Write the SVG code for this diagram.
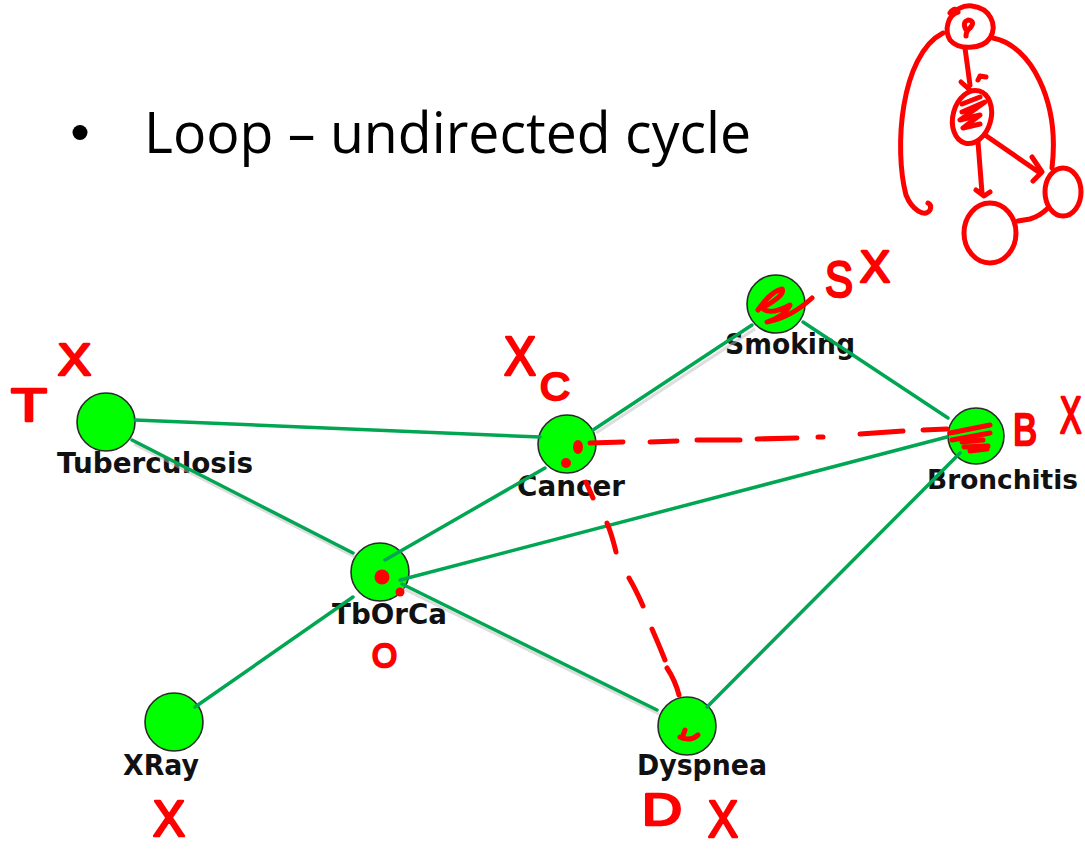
<svg xmlns="http://www.w3.org/2000/svg" width="1085" height="849" viewBox="0 0 1085 849">
<style>
.title{font-family:"Open Sans","Liberation Sans",sans-serif;font-size:57px;fill:#000}
.lbl{font-family:"DejaVu Sans","Liberation Sans",sans-serif;font-weight:bold;font-size:29px;fill:#111}
.node{fill:#00ff00;stroke:#2a2a2a;stroke-width:1.6}
.edge{stroke:#00a651;stroke-width:3.5;fill:none;stroke-linecap:round}
.shadow{stroke:#bbbbbb;stroke-width:3;fill:none;opacity:0.5}
.ink{stroke:#ff0000;stroke-width:5;fill:none;stroke-linecap:round;stroke-linejoin:round}
.hw{font-family:"Liberation Sans",sans-serif;fill:#ff0000;stroke:#ff0000;stroke-width:2.5;stroke-linejoin:round}
.dot{fill:#ff0000}
</style>
<rect width="1085" height="849" fill="#ffffff"/>

<g id="title">
  <circle cx="80" cy="132.5" r="7.5" fill="#000"/>
  <text class="title" x="144" y="153" textLength="607" lengthAdjust="spacingAndGlyphs">Loop – undirected cycle</text>
</g>

<g id="nodes">
  <g id="node-tuberculosis">
    <circle class="node" cx="106" cy="422" r="29"/>
    <text class="lbl" x="57" y="473" textLength="196" lengthAdjust="spacingAndGlyphs">Tuberculosis</text>
  </g>
  <g id="node-cancer">
    <circle class="node" cx="567" cy="444" r="29"/>
    <text class="lbl" x="517" y="496" textLength="108" lengthAdjust="spacingAndGlyphs">Cancer</text>
  </g>
  <g id="node-smoking">
    <circle class="node" cx="776" cy="304" r="29"/>
    <text class="lbl" x="725" y="354" textLength="130" lengthAdjust="spacingAndGlyphs">Smoking</text>
  </g>
  <g id="node-bronchitis">
    <circle class="node" cx="976" cy="436" r="28"/>
    <text class="lbl" x="927" y="489" font-size="26" style="font-size:26px" textLength="151" lengthAdjust="spacingAndGlyphs">Bronchitis</text>
  </g>
  <g id="node-tborca">
    <circle class="node" cx="380" cy="572" r="29"/>
    <text class="lbl" x="332" y="624" textLength="115" lengthAdjust="spacingAndGlyphs">TbOrCa</text>
  </g>
  <g id="node-xray">
    <circle class="node" cx="174" cy="722" r="29"/>
    <text class="lbl" x="123" y="775" textLength="76" lengthAdjust="spacingAndGlyphs">XRay</text>
  </g>
  <g id="node-dyspnea">
    <circle class="node" cx="687" cy="726" r="29"/>
    <text class="lbl" x="637" y="775" textLength="130" lengthAdjust="spacingAndGlyphs">Dyspnea</text>
  </g>
</g>

<g id="connectors">
  <g class="shadows">
    <line class="shadow" x1="134" y1="444" x2="355" y2="557"/>
    <line class="shadow" x1="596" y1="433" x2="755" y2="329"/>
    <line class="shadow" x1="402" y1="588" x2="659" y2="714"/>
  </g>
  <line class="edge" x1="135" y1="420" x2="540" y2="437"/>
  <line class="edge" x1="132" y1="440" x2="353" y2="553"/>
  <line class="edge" x1="593" y1="430" x2="752" y2="325"/>
  <line class="edge" x1="545" y1="468" x2="385" y2="560"/>
  <line class="edge" x1="803" y1="322" x2="948" y2="418"/>
  <line class="edge" x1="947" y1="437" x2="400" y2="580"/>
  <line class="edge" x1="960" y1="453" x2="707" y2="707"/>
  <line class="edge" x1="402" y1="584" x2="657" y2="710"/>
  <line class="edge" x1="353" y1="597" x2="195" y2="707"/>
</g>

<g id="annotations">
  <!-- dashed Cancer - Bronchitis -->
  <path class="ink" d="M590,443 L623,442 M650,442 L677,441 M697,440 L740,440 M757,439 L797,438 M818,437 L823,437 M860,434 L903,431 M923,430 L947,429"/>
  <!-- dashed Cancer - Dyspnea -->
  <path class="ink" d="M586,482 L593,498 M607,523 Q612,535 616,552 M629,578 Q636,590 643,606 M652,629 Q659,645 665,660 M667,668 Q675,680 679,695"/>
  <!-- dots in nodes -->
  <ellipse class="dot" cx="578" cy="447" rx="5" ry="7"/>
  <circle class="dot" cx="566" cy="463" r="5"/>
  <circle class="dot" cx="382" cy="577" r="7.5"/>
  <circle class="dot" cx="400" cy="592" r="4.5"/>
  <path class="ink" d="M682,738 L685,730 M680,737 Q690,742 698,735"/>
  <!-- Smoking scribble -->
  <path class="ink" stroke-width="4" d="M758,310 Q770,292 782,289 Q786,295 762,308 Q770,316 790,305 Q785,316 767,322 Q790,318 812,298"/>
  <!-- Bronchitis scribble -->
  <path class="ink" d="M950,433 L990,425 M952,440 L990,433 M962,442 L983,440 M964,447 L988,446 M970,451 L987,449"/>

  <!-- handwritten letters -->
  <text class="hw" x="11" y="421" font-size="46" textLength="36" lengthAdjust="spacingAndGlyphs">T</text>
  <text class="hw" x="58" y="375" font-size="44" textLength="33" lengthAdjust="spacingAndGlyphs">X</text>
  <text class="hw" x="504" y="375" font-size="56" textLength="32" lengthAdjust="spacingAndGlyphs">X</text>
  <text class="hw" x="540" y="400" font-size="38" textLength="30" lengthAdjust="spacingAndGlyphs">C</text>
  <text class="hw" x="825" y="297" font-size="50" textLength="28" lengthAdjust="spacingAndGlyphs">S</text>
  <text class="hw" x="860" y="282" font-size="44" textLength="30" lengthAdjust="spacingAndGlyphs">X</text>
  <text class="hw" x="1013" y="445" font-size="44" textLength="24" lengthAdjust="spacingAndGlyphs">B</text>
  <text class="hw" transform="translate(1060,433) scale(0.62,1)" font-size="52">X</text>
  <text class="hw" x="372" y="667" font-size="34" textLength="25" lengthAdjust="spacingAndGlyphs">O</text>
  <text class="hw" x="153" y="836" font-size="50" textLength="32" lengthAdjust="spacingAndGlyphs">X</text>
  <text class="hw" x="642" y="825" font-size="44" textLength="40" lengthAdjust="spacingAndGlyphs">D</text>
  <text class="hw" x="708" y="837" font-size="52" textLength="30" lengthAdjust="spacingAndGlyphs">X</text>

  <!-- top-right sketch -->
  <g id="sketch">
    <path class="ink" d="M950,13 Q955,6 958,12 M958,12 C948,15 944,30 950,40 C958,50 982,50 990,38 C998,25 990,8 972,6 C962,5 955,10 952,16"/>
    <path class="ink" stroke-width="4" d="M966,30 Q962,22 968,20 Q976,21 970,28 Q966,31 966,36"/>
    <path class="ink" d="M965,48 L970,85 M961,82 L970,90 M978,80 L980,76 L986,77"/>
    <ellipse class="ink" cx="972" cy="117" rx="19" ry="27" transform="rotate(15 972 117)"/>
    <path class="ink" stroke-width="4" d="M962,104 L980,97 M962,112 L985,102 L960,120 L980,115 L963,128 L980,124"/>
    <path class="ink" d="M978,142 L982,193 M976,190 L984,196 L990,192"/>
    <path class="ink" d="M985,135 L1040,173 M1032,157 L1042,172 L1033,181"/>
    <ellipse class="ink" cx="990" cy="233" rx="26" ry="30"/>
    <ellipse class="ink" cx="1063" cy="192" rx="18" ry="24"/>
    <path class="ink" d="M1018,221 L1030,219 Q1040,216 1048,208"/>
    <path class="ink" d="M993,38 C1030,45 1060,100 1052,168"/>
    <path class="ink" d="M943,33 C900,55 894,150 906,195 C912,210 925,218 930,210 Q932,205 928,203"/>
  </g>
</g>
</svg>
